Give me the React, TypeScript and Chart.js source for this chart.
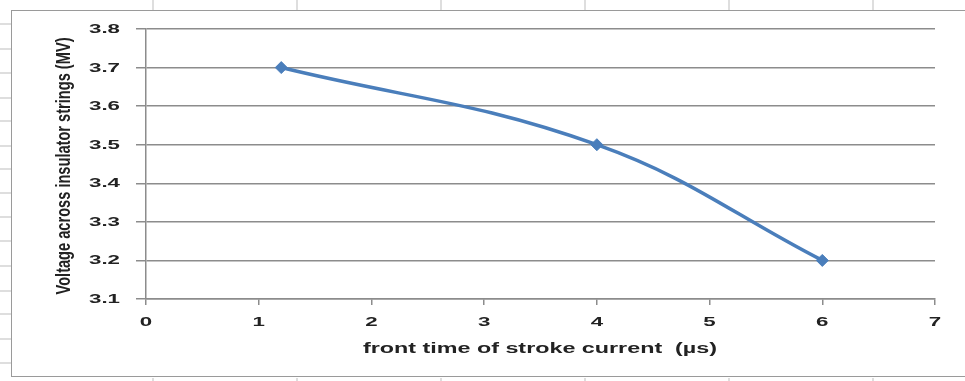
import { useEffect, useRef } from "react";
import { Chart, registerables } from "chart.js";

Chart.register(...registerables);

// Front time of the stroke current (µs) and the resulting voltage (MV)
const frontTimes = [1.2, 4, 6];
const voltages = [3.7, 3.5, 3.2];

const xTickLabels = ["0", "1", "2", "3", "4", "5", "6", "7"];
const yTickLabels = ["3.1", "3.2", "3.3", "3.4", "3.5", "3.6", "3.7", "3.8"];

const xTitle = "front time of stroke current  (\u00b5s)";
const yTitle = "Voltage across insulator strings (MV)";

const W = 965;
const H = 381;
const FONT = '"Liberation Sans", Arial, sans-serif';
const TEXT_COLOR = "#222222";
const GRID_COLOR = "#8c8c8c";
const LINE_COLOR = "#4a7ebb";

// Faint worksheet cell lines around the chart frame
const sheetCols = [152, 296, 440, 584, 728, 872];
const sheetRows = [23, 48, 72, 97, 120, 145, 168, 192, 216, 240, 265, 290, 313, 338, 362];

function drawStretched(
  ctx: CanvasRenderingContext2D,
  text: string,
  x: number,
  y: number,
  sx: number,
  align: CanvasTextAlign
) {
  ctx.save();
  ctx.translate(x, y);
  ctx.scale(sx, 1);
  ctx.textAlign = align;
  ctx.textBaseline = "middle";
  ctx.fillText(text, 0, 0);
  ctx.restore();
}

const textPlugin = {
  id: "axisText",
  afterDraw(chart: any) {
    const ctx: CanvasRenderingContext2D = chart.ctx;
    const xs = chart.scales.x;
    const ys = chart.scales.y;
    ctx.save();
    ctx.fillStyle = TEXT_COLOR;

    // tick labels, widened so "3.8" spans about 32px
    ctx.font = `bold 12.5px ${FONT}`;
    const tickStretch = 31 / ctx.measureText("3.8").width;
    yTickLabels.forEach((lbl) => {
      const py = ys.getPixelForValue(parseFloat(lbl));
      drawStretched(ctx, lbl, 120, py + 0.5, tickStretch, "right");
    });
    xTickLabels.forEach((lbl) => {
      const px = xs.getPixelForValue(parseFloat(lbl));
      drawStretched(ctx, lbl, px, xs.top + 24, tickStretch, "center");
    });

    // x axis title, fitted to its width
    ctx.font = `bold 14px ${FONT}`;
    const xw = ctx.measureText(xTitle).width;
    drawStretched(ctx, xTitle, 540, 349, 354 / xw, "center");

    // y axis title, rotated; its glyphs are widened across the axis
    ctx.font = `bold 14px ${FONT}`;
    const yw = ctx.measureText(yTitle).width;
    ctx.save();
    ctx.translate(64, 166);
    ctx.rotate(-Math.PI / 2);
    ctx.scale(257 / yw, 1.5);
    ctx.textAlign = "center";
    ctx.textBaseline = "middle";
    ctx.fillText(yTitle, 0, 0);
    ctx.restore();

    ctx.restore();
  },
};

export default function App() {
  const canvasRef = useRef<HTMLCanvasElement | null>(null);

  useEffect(() => {
    const canvas = canvasRef.current;
    if (!canvas) return;
    const chart = new Chart(canvas, {
      type: "line",
      data: {
        datasets: [
          {
            data: frontTimes.map((t, i) => ({ x: t, y: voltages[i] })),
            borderColor: LINE_COLOR,
            backgroundColor: LINE_COLOR,
            borderWidth: 3.5,
            tension: 0.4,
            pointStyle: "rectRot",
            pointRadius: 6,
            pointHoverRadius: 6,
            pointBorderWidth: 1,
            fill: false,
          },
        ],
      },
      options: {
        responsive: false,
        animation: false,
        events: [],
        layout: { padding: { left: 0, right: 30, top: 29, bottom: 0 } },
        plugins: {
          legend: { display: false },
          tooltip: { enabled: false },
          title: { display: false },
        },
        scales: {
          x: {
            type: "linear",
            min: 0,
            max: 7,
            ticks: { display: false, stepSize: 1 },
            grid: {
              drawOnChartArea: false,
              drawTicks: true,
              tickLength: 6,
              color: GRID_COLOR,
              lineWidth: 1.5,
            },
            border: { color: GRID_COLOR, width: 1.5 },
            afterFit: (scale: any) => {
              scale.height = 82;
            },
          },
          y: {
            type: "linear",
            min: 3.1,
            max: 3.8,
            ticks: { display: false, stepSize: 0.1 },
            grid: {
              drawTicks: true,
              tickLength: 10,
              color: GRID_COLOR,
              lineWidth: 1.5,
            },
            border: { color: GRID_COLOR, width: 1.5 },
            afterFit: (scale: any) => {
              scale.width = 146;
            },
          },
        },
      },
      plugins: [textPlugin],
    });
    return () => chart.destroy();
  }, []);

  return (
    <div
      style={{
        position: "fixed",
        left: 0,
        top: 0,
        width: W,
        height: H,
        background: "#fff",
        overflow: "hidden",
      }}
    >
      {sheetCols.map((x) => (
        <div key={"t" + x} style={{ position: "absolute", left: x, top: 0, width: 1.5, height: 11, background: "#dedede" }} />
      ))}
      {sheetCols.map((x) => (
        <div key={"b" + x} style={{ position: "absolute", left: x, top: 378, width: 1.5, height: 3, background: "#dedede" }} />
      ))}
      {sheetRows.map((y) => (
        <div key={"r" + y} style={{ position: "absolute", left: 0, top: y, width: 11, height: 1.5, background: "#dedede" }} />
      ))}
      <div
        style={{
          position: "absolute",
          left: 11,
          top: 10,
          width: W,
          height: 367,
          boxSizing: "border-box",
          border: "1.5px solid #9a9a9a",
        }}
      />
      <canvas
        ref={canvasRef}
        width={W}
        height={H}
        style={{ position: "absolute", left: 0, top: 0, display: "block" }}
      />
    </div>
  );
}
